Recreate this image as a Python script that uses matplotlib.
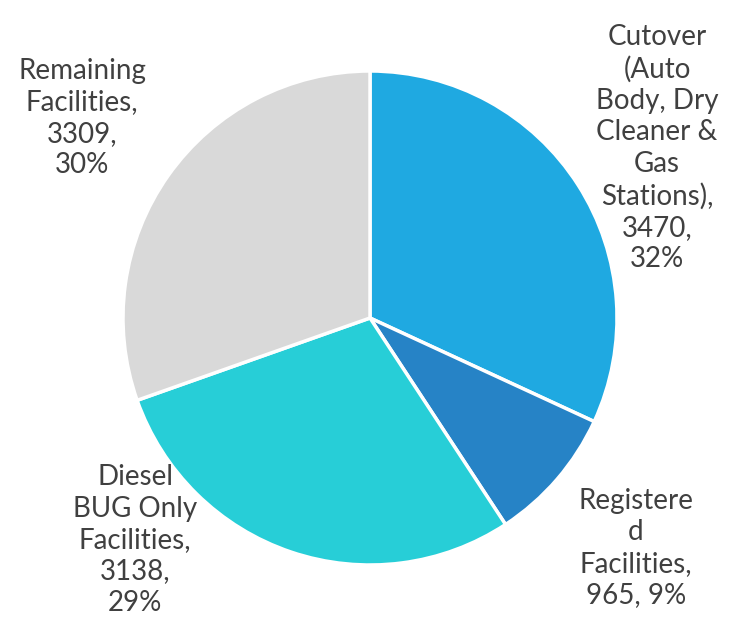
import matplotlib
matplotlib.use("Agg")
from matplotlib import pyplot as plt

# data
categories = ["Cutover\n(Auto\nBody, Dry\nCleaner &\nGas\nStations)",
              "Registere\nd\nFacilities",
              "Diesel\nBUG Only\nFacilities",
              "Remaining\nFacilities"]
values = [3470, 965, 3138, 3309]
colors = ["#1FA9E1", "#2683C6", "#27CED7", "#D9D9D9"]

# label text positions (pixels, top-left origin)
label_pos = [(657, 148), (636, 548), (135, 540), (82, 118)]

W, H = 734, 625
fig = plt.figure(figsize=(W / 100, H / 100), dpi=100)
ax = fig.add_axes([0, 0, 1, 1])

wedges, _ = ax.pie(values, colors=colors, startangle=90, counterclock=False,
                   center=(370, H - 318), radius=247,
                   wedgeprops=dict(edgecolor="white", linewidth=2.5))
# pie() resets the limits, so set them afterwards
ax.set_xlim(0, W)
ax.set_ylim(0, H)
ax.axis('off')

total = sum(values)
for name, v, (x, y) in zip(categories, values, label_pos):
    pct = round(v / total * 100)
    if name.startswith("Registere"):
        txt = "{},\n{}, {}%".format(name, v, pct)
    else:
        txt = "{},\n{},\n{}%".format(name, v, pct)
    ax.text(x, H - y, txt, ha="center", va="center", fontsize=20,
            family="Lato", color="#404040", linespacing=1.26)

fig.savefig("out.png", dpi=100)
